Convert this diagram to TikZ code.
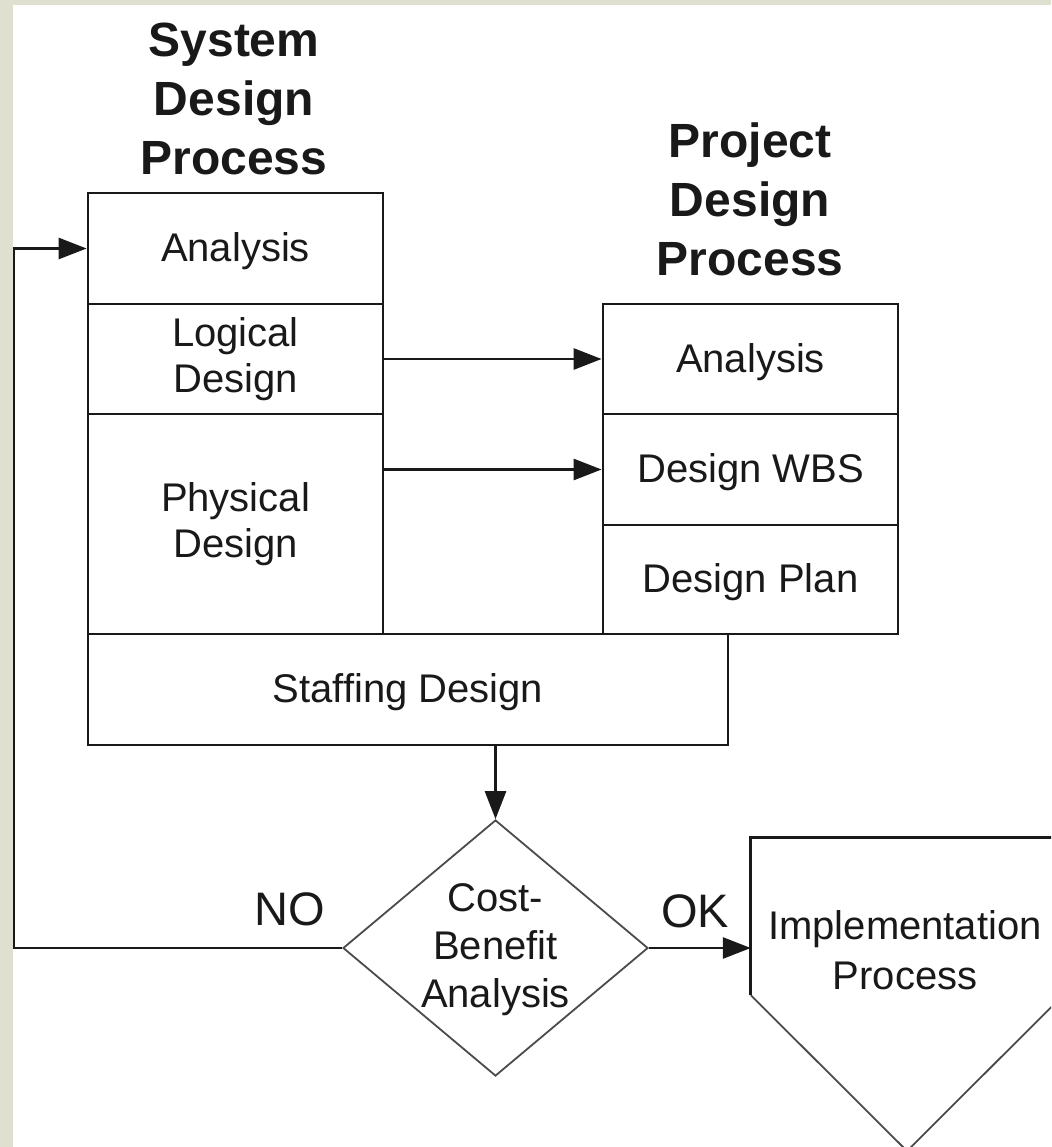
\documentclass[tikz,border=0pt]{standalone}
\usepackage{fontspec}
\setmainfont{Liberation Sans}
\usetikzlibrary{arrows.meta,shapes.geometric}
\definecolor{bgstrip}{RGB}{224,224,208}
\definecolor{ink}{RGB}{25,25,25}
\definecolor{thinink}{RGB}{75,75,75}
\begin{document}
\begin{tikzpicture}[x=1pt,y=-1pt,
  cell/.style={draw=ink, line width=2.8pt, rectangle, inner sep=0pt, align=center,
    font=\fontsize{40}{46}\selectfont, text=ink},
  oneline/.style={text depth=2pt},
  titletext/.style={inner sep=0pt, align=center, text=ink,
    font=\bfseries\fontsize{48}{59}\selectfont},
  plaintext/.style={inner sep=0pt, align=center, text=ink},
  conn/.style={draw=ink, line width=2.8pt, line join=miter,
    -{Triangle[length=28pt,width=21pt]}},
  thickedge/.style={draw=ink, line width=2.8pt, line join=miter},
  thinedge/.style={draw=thinink, line width=1.8pt, line join=miter}
]
\useasboundingbox (0,0) rectangle (1051,1147);
\clip (0,0) rectangle (1051,1147);
\fill[bgstrip] (0,0) rectangle (1051,1147);
\fill[white] (13,5) rectangle (1051,1147);

% titles
\node[titletext] (sttl) at (234,98.5) {System\\Design\\Process};
\node[titletext] (pttl) at (750,199) {Project\\Design\\Process};

% system design process
\node[cell, oneline, minimum width=295pt, minimum height=111pt] (sa) at (235.5,248.5) {Analysis};
\node[cell, minimum width=295pt, minimum height=110pt] (sl) at (235.5,359) {Logical\\Design};
\node[cell, minimum width=295pt, minimum height=220pt] (sp) at (235.5,524) {Physical\\Design};
\node[cell, oneline, minimum width=640pt, minimum height=111pt] (sf) at (408,689.5) {Staffing Design};

% project design process
\node[cell, oneline, minimum width=295pt, minimum height=110pt] (pa) at (750.5,359) {Analysis};
\node[cell, oneline, minimum width=295pt, minimum height=111pt] (pw) at (750.5,469.5) {Design WBS};
\node[cell, oneline, minimum width=295pt, minimum height=109pt] (pp) at (750.5,579.5) {Design Plan};

% decision
\node[diamond, thinedge, minimum width=305pt, minimum height=256pt, inner sep=0pt] (cba) at (495.5,948) {};
\node[plaintext, font=\fontsize{40}{48}\selectfont] (cbat) at (495.5,950) {Cost-\\Benefit\\Analysis};

% implementation
\node[rectangle, inner sep=0pt, minimum width=312pt, minimum height=157pt] (impl) at (907,916.5) {};
\coordinate (implb) at (907,1151);
\draw[thinedge] (impl.south west) -- (implb) -- (impl.south east);
\draw[thickedge] (impl.south west) -- (impl.north west) -- (impl.north east) -- (impl.south east);
\node[plaintext, font=\fontsize{40}{50}\selectfont] (implt) at (905,950.5) {Implementation\\Process};

% labels
\node[plaintext, anchor=base, font=\fontsize{47}{47}\selectfont] (nolbl) at (290,925) {NO};
\node[plaintext, anchor=base, font=\fontsize{47}{47}\selectfont] (oklbl) at (695,927) {OK};

% connectors
\coordinate (loopc) at (14,948);
\draw[conn] (sl.east) -- (pa.west);
\draw[conn] (sp.east |- pw.west) -- (pw.west);
\draw[conn] (cba.north |- sf.south) -- (cba.north);
\draw[conn] (cba.east) -- (impl.west |- cba.east);
\draw[conn] (cba.west) -- (loopc) |- (sa.west);
\end{tikzpicture}
\end{document}
